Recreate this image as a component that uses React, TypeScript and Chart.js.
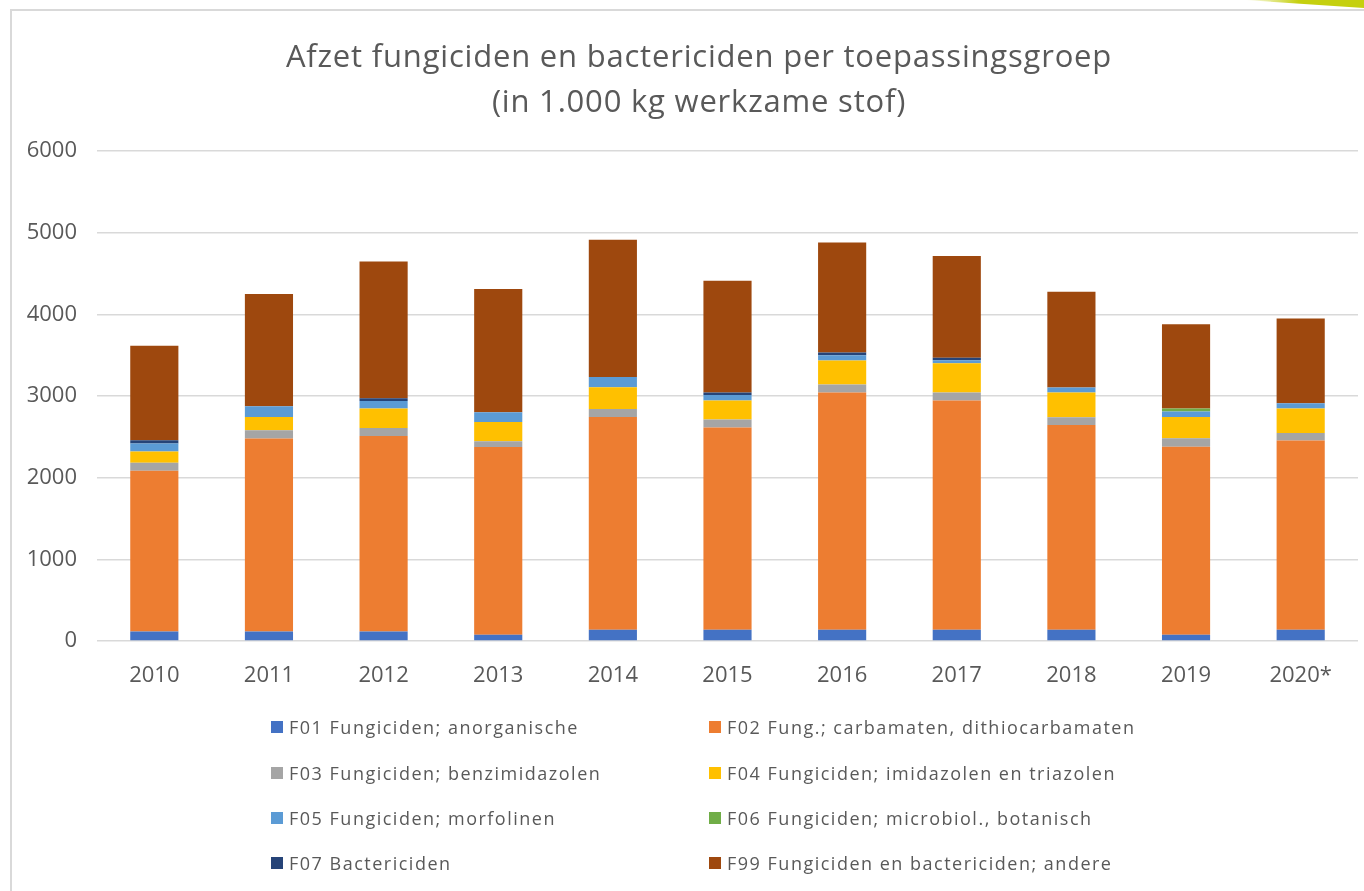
import React, { useEffect, useRef } from "react";
import { Chart, registerables } from "chart.js";

Chart.register(...registerables);

const years = ["2010", "2011", "2012", "2013", "2014", "2015", "2016", "2017", "2018", "2019", "2020*"];

const f01 = [115, 115, 115, 77, 138, 138, 138, 138, 138, 77, 138];
const f02 = [1971, 2364, 2395, 2299, 2605, 2475, 2904, 2806, 2507, 2303, 2316];
const f03 = [98, 101, 98, 69, 98, 98, 98, 98, 95, 102, 93];
const f04 = [135, 163, 238, 237, 266, 233, 295, 360, 302, 261, 299];
const f05 = [98, 131, 93, 119, 127, 69, 65, 36, 62, 66, 65];
const f06 = [0, 0, 0, 0, 0, 0, 0, 0, 0, 37, 0];
const f07 = [41, 0, 34, 0, 0, 29, 33, 29, 0, 0, 0];
const f99 = [1156, 1375, 1674, 1510, 1679, 1369, 1347, 1247, 1174, 1034, 1039];

const seriesLabels = [
  "F01 Fungiciden; anorganische",
  "F02 Fung.; carbamaten, dithiocarbamaten",
  "F03 Fungiciden; benzimidazolen",
  "F04 Fungiciden; imidazolen en triazolen",
  "F05 Fungiciden; morfolinen",
  "F06 Fungiciden; microbiol., botanisch",
  "F07 Bactericiden",
  "F99 Fungiciden en bactericiden; andere",
];
const seriesData = [f01, f02, f03, f04, f05, f06, f07, f99];
const seriesColors = ["#4472C4", "#ED7D31", "#A5A5A5", "#FFC000", "#5B9BD5", "#70AD47", "#264478", "#9E480E"];

const yTicks = [0, 1000, 2000, 3000, 4000, 5000, 6000];

const titleLines = ["Afzet fungiciden en bactericiden per toepassingsgroep", "(in 1.000 kg werkzame stof)"];

const FONT = "'Open Sans', 'DejaVu Sans', sans-serif";
const TEXT = "#595959";

export default function App() {
  const ref = useRef<HTMLCanvasElement | null>(null);

  useEffect(() => {
    document.body.style.margin = "0";
    const canvas = ref.current;
    if (!canvas) return;
    const chart = new Chart(canvas, {
      type: "bar",
      data: {
        labels: years,
        datasets: seriesLabels.map((label, i) => ({
          label,
          data: seriesData[i],
          backgroundColor: seriesColors[i],
          borderWidth: 0,
          barPercentage: 0.42,
          categoryPercentage: 1,
        })),
      },
      options: {
        animation: false,
        responsive: false,
        maintainAspectRatio: false,
        layout: { padding: { left: 0, top: 151, right: 6, bottom: 200 } },
        plugins: {
          legend: { display: false },
          title: { display: false },
          tooltip: { enabled: false },
        },
        scales: {
          x: {
            stacked: true,
            grid: { display: false, drawTicks: false },
            border: { display: false },
            ticks: { color: TEXT, font: { family: FONT, size: 22 }, padding: 22 },
            afterFit: (s: any) => {
              s.height = 50;
            },
          },
          y: {
            stacked: true,
            min: 0,
            max: 6000,
            afterBuildTicks: (s: any) => {
              s.ticks = yTicks.map((v) => ({ value: v }));
            },
            grid: { color: "#d9d9d9", lineWidth: 1.5, drawTicks: false },
            border: { display: false },
            ticks: {
              color: TEXT,
              font: { family: FONT, size: 22 },
              padding: 20,
              callback: (v: any) => String(v),
            },
            afterFit: (s: any) => {
              s.width = 97;
            },
          },
        },
      },
    });
    return () => chart.destroy();
  }, []);

  const rowsY = [727, 773, 818, 863];
  const colsX = [271, 709];

  return (
    <div style={{ position: "relative", width: 1364, height: 891, overflow: "hidden", background: "#fff", fontFamily: FONT }}>
      <div
        style={{
          position: "absolute",
          left: 10,
          top: 9,
          width: 1400,
          height: 1000,
          border: "2px solid #d9d9d9",
          boxSizing: "border-box",
        }}
      />
      <div
        style={{
          position: "absolute",
          left: 1245,
          top: 0,
          width: 119,
          height: 8,
          background: "linear-gradient(to right, rgba(200,210,20,0) 0%, #c5d00f 45%, #c5d00f 100%)",
          clipPath: "polygon(0 0, 100% 0, 100% 100%)",
        }}
      />
      <canvas ref={ref} width={1364} height={891} style={{ position: "absolute", left: 0, top: 0, width: 1364, height: 891 }} />
      {titleLines.map((t, i) => (
        <div
          key={i}
          style={{
            position: "absolute",
            left: 0,
            width: 1398,
            top: 34 + i * 45,
            height: 42,
            lineHeight: "42px",
            textAlign: "center",
            fontSize: 31,
            letterSpacing: 0.8,
            color: TEXT,
            whiteSpace: "nowrap",
          }}
        >
          {t}
        </div>
      ))}
      {seriesLabels.map((label, i) => {
        const col = i % 2;
        const row = Math.floor(i / 2);
        return (
          <div
            key={label}
            style={{
              position: "absolute",
              left: colsX[col],
              top: rowsY[row] - 13,
              height: 26,
              display: "flex",
              alignItems: "center",
              whiteSpace: "nowrap",
              fontSize: 18,
              letterSpacing: 1.5,
              color: TEXT,
            }}
          >
            <span style={{ display: "inline-block", width: 12, height: 12, background: seriesColors[i], marginRight: 6 }} />
            <span>{label}</span>
          </div>
        );
      })}
    </div>
  );
}
